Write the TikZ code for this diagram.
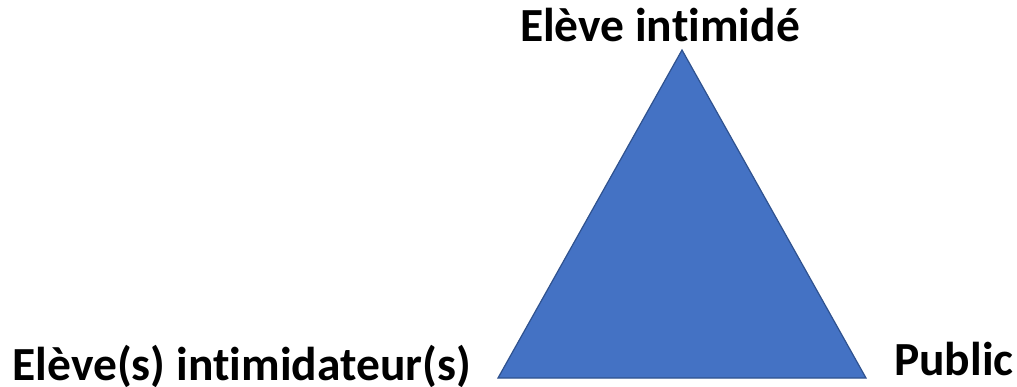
\documentclass[tikz,border=0pt]{standalone}
\usepackage{fontspec}
\setmainfont[Ligatures=NoCommon]{Carlito}
\usepackage{tikz}
\usetikzlibrary{positioning}

\definecolor{triblue}{HTML}{4472C4}
\definecolor{triedge}{HTML}{2F528F}

\begin{document}
\begin{tikzpicture}[x=1pt, y=-1pt, label/.style={inner sep=0pt, font=\fontsize{47.5}{52}\selectfont\bfseries}]
        \useasboundingbox (0,0) rectangle (1017,387);
        \coordinate (top)   at (682,50);
        \coordinate (left)  at (498,378);
        \coordinate (right) at (866,378);

        \filldraw[fill=triblue, draw=triedge, line width=1.2pt, line join=miter] (top) -- (left) -- (right) -- cycle;

        \node[label, anchor=base]      (victim)   at (660,42)  {Elève intimidé};
        \node[label, anchor=base west] (bullies)  at (12.5,380) {Elève(s) intimidateur(s)};
        \node[label, anchor=base west] (public)   at (894,375) {Public};
\end{tikzpicture}
\end{document}
